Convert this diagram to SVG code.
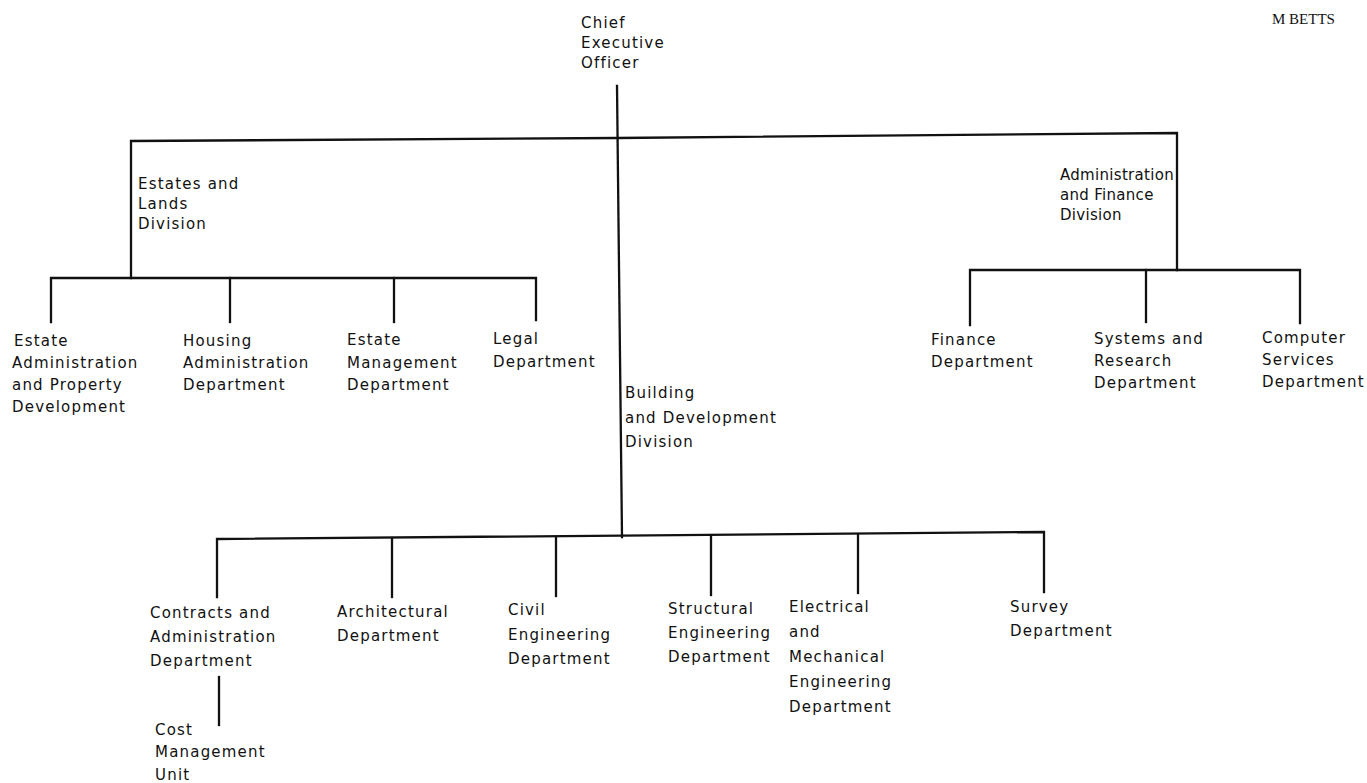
<svg xmlns="http://www.w3.org/2000/svg" width="1367" height="783" viewBox="0 0 1367 783">
  <style>
    .lbl { font-family: "DejaVu Sans", "Liberation Sans", sans-serif; font-size: 15px; letter-spacing: 1.2px; fill: #111; }
    .tight { letter-spacing: 0.3px; }
    .auth { font-family: "Liberation Serif", serif; font-size: 15px; fill: #111; }
    .ln { stroke: #111; stroke-width: 2.3; fill: none; stroke-linecap: square; stroke-linejoin: miter; }
  </style>
  <rect width="1367" height="783" fill="#fff"/>

  <text class="auth" x="1272" y="24">M BETTS</text>

  <!-- connectors -->
  <g id="connectors" class="ln">
    <!-- chief executive down to the building division bar -->
    <path d="M617 86 L622 537"/>
    <!-- division bar -->
    <path d="M131 278 V141 L617 138 L1177 133 V270"/>
    <!-- estates and lands -->
    <path d="M51 322 V278 H536 V320"/>
    <path d="M230 278 V322"/>
    <path d="M394 278 V322"/>
    <!-- administration and finance -->
    <path d="M970 325 V270 H1300 V323"/>
    <path d="M1146 270 V322"/>
    <!-- building and development -->
    <path d="M217 597 V539 L1044 532 V592"/>
    <path d="M392 538 V597"/>
    <path d="M556 537 V596"/>
    <path d="M711 536 V595"/>
    <path d="M858 535 V593"/>
    <!-- cost management -->
    <path d="M219 677 V725"/>
  </g>

  <g id="ceo"><text class="lbl"><tspan x="581" y="28">Chief</tspan><tspan x="581" y="48">Executive</tspan><tspan x="581" y="68">Officer</tspan></text></g>

  <g id="estates-division"><text class="lbl"><tspan x="138" y="189">Estates and</tspan><tspan x="138" y="209">Lands</tspan><tspan x="138" y="229">Division</tspan></text></g>
  <g id="estate-admin"><text class="lbl"><tspan x="14" y="346">Estate</tspan><tspan x="12" y="368">Administration</tspan><tspan x="12" y="390">and Property</tspan><tspan x="12" y="412">Development</tspan></text></g>
  <g id="housing"><text class="lbl"><tspan x="183" y="346">Housing</tspan><tspan x="183" y="368">Administration</tspan><tspan x="183" y="390">Department</tspan></text></g>
  <g id="estate-mgmt"><text class="lbl"><tspan x="347" y="345">Estate</tspan><tspan x="347" y="368">Management</tspan><tspan x="347" y="390">Department</tspan></text></g>
  <g id="legal"><text class="lbl"><tspan x="493" y="344">Legal</tspan><tspan x="493" y="367">Department</tspan></text></g>

  <g id="admin-division"><text class="lbl tight"><tspan x="1060" y="180">Administration</tspan><tspan x="1060" y="200">and Finance</tspan><tspan x="1060" y="220">Division</tspan></text></g>
  <g id="finance"><text class="lbl"><tspan x="931" y="345">Finance</tspan><tspan x="931" y="367">Department</tspan></text></g>
  <g id="systems"><text class="lbl"><tspan x="1094" y="344">Systems and</tspan><tspan x="1094" y="366">Research</tspan><tspan x="1094" y="388">Department</tspan></text></g>
  <g id="computer"><text class="lbl"><tspan x="1262" y="343">Computer</tspan><tspan x="1262" y="365">Services</tspan><tspan x="1262" y="387">Department</tspan></text></g>

  <g id="building-division"><text class="lbl"><tspan x="625" y="398">Building</tspan><tspan x="625" y="423">and Development</tspan><tspan x="625" y="447">Division</tspan></text></g>
  <g id="contracts"><text class="lbl"><tspan x="150" y="618">Contracts and</tspan><tspan x="150" y="642">Administration</tspan><tspan x="150" y="666">Department</tspan></text></g>
  <g id="cost-mgmt"><text class="lbl"><tspan x="155" y="735">Cost</tspan><tspan x="155" y="757">Management</tspan><tspan x="155" y="780">Unit</tspan></text></g>
  <g id="architectural"><text class="lbl"><tspan x="337" y="617">Architectural</tspan><tspan x="337" y="641">Department</tspan></text></g>
  <g id="civil"><text class="lbl"><tspan x="508" y="615">Civil</tspan><tspan x="508" y="640">Engineering</tspan><tspan x="508" y="664">Department</tspan></text></g>
  <g id="structural"><text class="lbl"><tspan x="668" y="614">Structural</tspan><tspan x="668" y="638">Engineering</tspan><tspan x="668" y="662">Department</tspan></text></g>
  <g id="electrical"><text class="lbl"><tspan x="789" y="612">Electrical</tspan><tspan x="789" y="637">and</tspan><tspan x="789" y="662">Mechanical</tspan><tspan x="789" y="687">Engineering</tspan><tspan x="789" y="712">Department</tspan></text></g>
  <g id="survey"><text class="lbl"><tspan x="1010" y="612">Survey</tspan><tspan x="1010" y="636">Department</tspan></text></g>
</svg>
